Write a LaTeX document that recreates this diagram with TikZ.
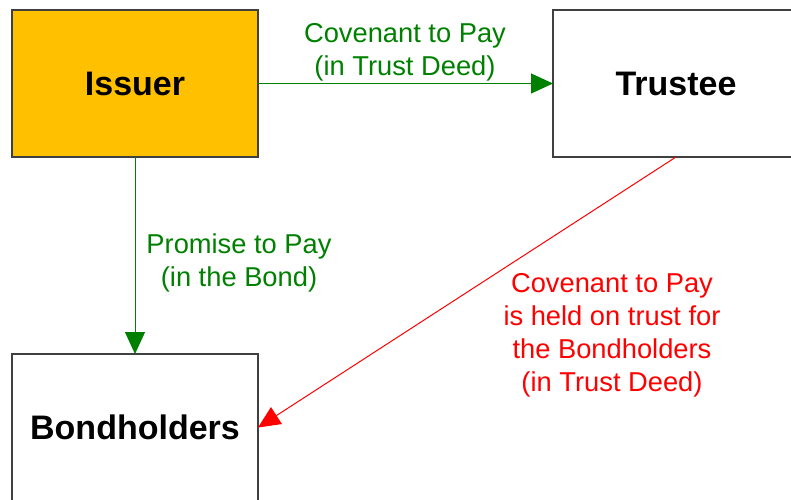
\documentclass[tikz,border=0pt]{standalone}
\usepackage{fontspec}
\setmainfont{Liberation Sans}
\usetikzlibrary{arrows.meta}
\definecolor{issuerfill}{HTML}{FFC000}
\definecolor{dgreen}{HTML}{008000}
\definecolor{bred}{HTML}{FF0000}
\definecolor{boxline}{HTML}{404040}
\tikzset{
  entity/.style={draw=boxline, line width=1.3pt, minimum width=246pt, minimum height=147pt, inner sep=0pt, outer sep=0pt, font=\fontsize{34}{40}\selectfont\bfseries},
  lbl/.style={align=center, inner sep=0pt, font=\fontsize{27.3}{33}\selectfont},
  conn/.style={line width=1pt, -{Triangle[length=22pt,width=20pt]}},
}
\begin{document}
\begin{tikzpicture}[x=1pt,y=-1pt]
\useasboundingbox (0,0) rectangle (791,499);
\node[entity, fill=issuerfill] (I) at (135,83.5) {Issuer};
\node[entity, fill=white] (T) at (676,83.5) {Trustee};
\node[entity, fill=white] (B) at (135,427.5) {Bondholders};
\draw[conn, dgreen] (I.east) -- (T.west);
\draw[conn, dgreen] (I.south) -- (B.north);
\draw[conn, bred] (T.south) -- (B.east);
\node[lbl, text=dgreen] (l1) at (405,52.5) {Covenant to Pay\\(in Trust Deed)};
\node[lbl, text=dgreen] (l2) at (239,262.5) {Promise to Pay\\(in the Bond)};
\node[lbl, text=bred] (l3) at (612,335) {Covenant to Pay\\is held on trust for\\the Bondholders\\(in Trust Deed)};
\end{tikzpicture}
\end{document}
